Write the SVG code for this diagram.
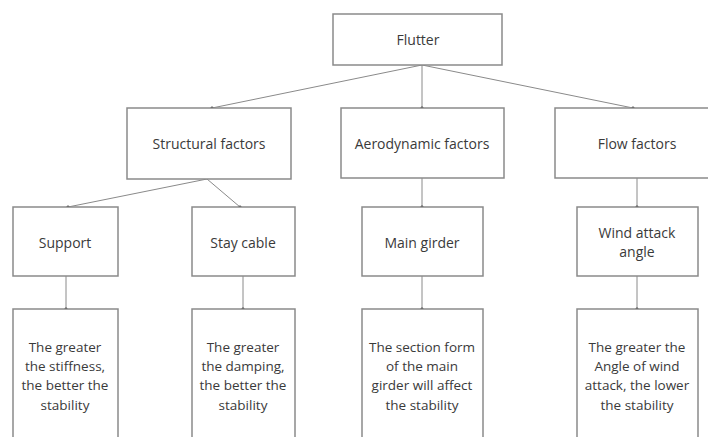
<svg xmlns="http://www.w3.org/2000/svg" width="708" height="437" viewBox="0 0 708 437">
<defs>
<style>
.box{fill:#fff;stroke:#8a8a8a;stroke-width:1.5}
.t{font-family:"Open Sans","Noto Sans","DejaVu Sans",sans-serif;font-size:14px;fill:#3a3a3a;text-anchor:middle}
.d{font-size:13.5px}
.c{stroke:#8a8a8a;stroke-width:1;fill:none;marker-end:url(#dot)}
</style>
<marker id="dot" viewBox="0 0 4 4" refX="2" refY="2" markerWidth="4" markerHeight="4" markerUnits="userSpaceOnUse">
<circle cx="2" cy="2" r="1.6" fill="#222"/>
</marker>
</defs>
<rect width="708" height="437" fill="#fff"/>
<g id="connectors">
<line class="c" x1="422" y1="65" x2="212" y2="108"/>
<line class="c" x1="422" y1="65" x2="422" y2="108"/>
<line class="c" x1="422" y1="65" x2="633" y2="108"/>
<line class="c" x1="207" y1="179" x2="68" y2="207"/>
<line class="c" x1="207" y1="179" x2="240" y2="207"/>
<line class="c" x1="422" y1="178" x2="422" y2="207"/>
<line class="c" x1="637" y1="178" x2="637" y2="207"/>
<line class="c" x1="66" y1="276" x2="66" y2="309"/>
<line class="c" x1="243" y1="276" x2="243" y2="309"/>
<line class="c" x1="422" y1="276" x2="422" y2="309"/>
<line class="c" x1="637" y1="276" x2="637" y2="309"/>
</g>
<g id="flutter"><rect class="box" x="333" y="14" width="169" height="51"/><text class="t" x="418" y="45">Flutter</text></g>
<g id="structural"><rect class="box" x="127" y="108" width="164" height="71"/><text class="t" x="209" y="149">Structural factors</text></g>
<g id="aerodynamic"><rect class="box" x="341" y="108" width="163" height="70"/><text class="t" x="422" y="149">Aerodynamic factors</text></g>
<g id="flow"><rect class="box" x="555" y="108" width="164" height="70"/><text class="t" x="637" y="149">Flow factors</text></g>
<g id="support"><rect class="box" x="13" y="207" width="105" height="69"/><text class="t" x="65" y="248">Support</text></g>
<g id="staycable"><rect class="box" x="192" y="207" width="103" height="69"/><text class="t" x="243" y="248">Stay cable</text></g>
<g id="maingirder"><rect class="box" x="362" y="207" width="121" height="69"/><text class="t" x="422" y="248">Main girder</text></g>
<g id="windangle"><rect class="box" x="577" y="207" width="121" height="69"/><text class="t" x="637" y="238">Wind attack</text><text class="t" x="637" y="257">angle</text></g>
<g id="desc-support"><rect class="box" x="13" y="309" width="105" height="140"/>
<text class="t d" x="65" y="352">The greater</text><text class="t d" x="65" y="371">the stiffness,</text><text class="t d" x="65" y="390">the better the</text><text class="t d" x="65" y="410">stability</text></g>
<g id="desc-staycable"><rect class="box" x="192" y="309" width="103" height="140"/>
<text class="t d" x="243" y="352">The greater</text><text class="t d" x="243" y="371">the damping,</text><text class="t d" x="243" y="390">the better the</text><text class="t d" x="243" y="410">stability</text></g>
<g id="desc-maingirder"><rect class="box" x="362" y="309" width="121" height="140"/>
<text class="t d" x="422" y="352">The section form</text><text class="t d" x="422" y="371">of the main</text><text class="t d" x="422" y="390">girder will affect</text><text class="t d" x="422" y="410">the stability</text></g>
<g id="desc-windangle"><rect class="box" x="577" y="309" width="121" height="140"/>
<text class="t d" x="637" y="352">The greater the</text><text class="t d" x="637" y="371">Angle of wind</text><text class="t d" x="637" y="390">attack, the lower</text><text class="t d" x="637" y="410">the stability</text></g>
</svg>
